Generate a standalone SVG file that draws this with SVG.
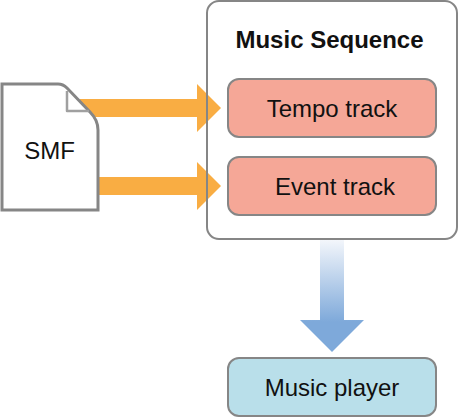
<svg xmlns="http://www.w3.org/2000/svg" width="458" height="417" viewBox="0 0 458 417">
<style>
text{font-family:"Liberation Sans",Arial,sans-serif;font-size:24px;fill:#111;text-anchor:middle}
.box{stroke:#868686;stroke-width:2}
.track{fill:#f5a797}
.orange{fill:#f9ad43}
</style>
<defs>
<linearGradient id="blue" gradientUnits="userSpaceOnUse" x1="0" y1="240" x2="0" y2="322">
<stop offset="0" stop-color="#f3f6fb"/>
<stop offset="1" stop-color="#7ea9da"/>
</linearGradient>
</defs>
<g id="connectors">
<polygon class="orange" points="80,99 197,99 197,84 221,108 197,132 197,117 80,117"/>
<polygon class="orange" points="98,177 197,177 197,162 221,186 197,210 197,195 98,195"/>
<polygon fill="url(#blue)" points="320,240 344,240 344,320 364,320 332,352 300,320 320,320"/>
</g>
<g id="music-sequence">
<rect class="box" x="207" y="1" width="250" height="238" rx="12" fill="none"/>
<text x="329.500" y="48" style="font-weight:bold">Music Sequence</text>
</g>
<g id="tempo-track">
<rect class="box track" x="228" y="79" width="208" height="58" rx="11"/>
<text x="332" y="117">Tempo track</text>
</g>
<g id="event-track">
<rect class="box track" x="228" y="157" width="208" height="58" rx="11"/>
<text x="335" y="195">Event track</text>
</g>
<g id="music-player">
<rect class="box" x="228" y="358" width="208" height="58" rx="11" fill="#b9dfea"/>
<text x="332" y="396">Music player</text>
</g>
<g id="smf">
<path d="M2,84 H58 Q63,84 67,88 L90,112 Q98,120 98,130 V210 H2 Z" fill="#fff" stroke="#868686" stroke-width="3"/>
<path d="M67,91 V111 H89" fill="none" stroke="#a0a0a0" stroke-width="2.500" stroke-linejoin="round"/>
<text x="49.500" y="159">SMF</text>
</g>
</svg>
